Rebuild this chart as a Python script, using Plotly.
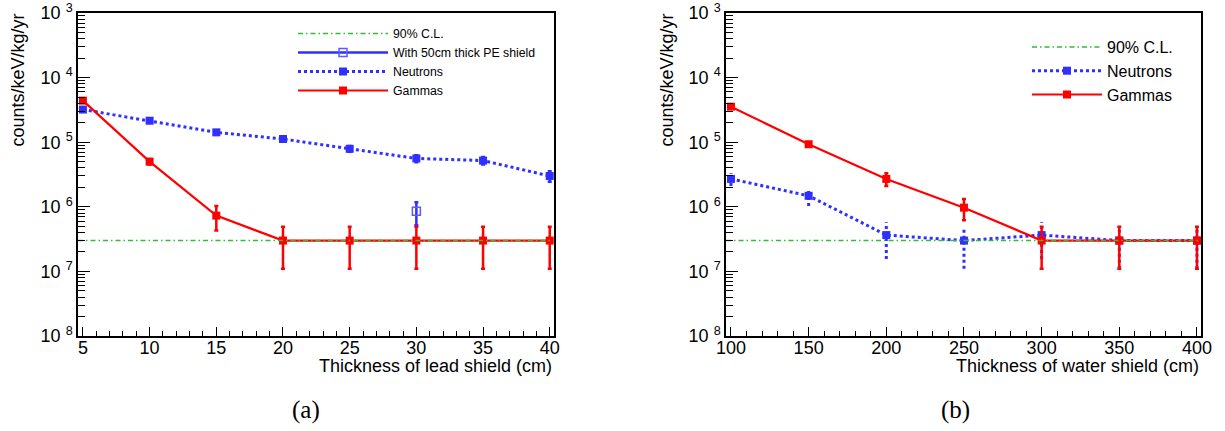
import plotly.graph_objects as go

# ---------------- data ----------------
lead_thickness = [5, 10, 15, 20, 25, 30, 35, 40]
lead_gammas = [4.4e-5, 5.0e-6, 7.3e-7, 3e-7, 3e-7, 3e-7, 3e-7, 3e-7]
lead_gammas_err = [2e-6, 5e-7, 3e-7, 1.9e-7, 1.9e-7, 1.9e-7, 1.9e-7, 1.9e-7]
lead_neutrons = [3.2e-5, 2.15e-5, 1.42e-5, 1.12e-5, 7.9e-6, 5.6e-6, 5.2e-6, 3.0e-6]
lead_neutrons_err = [1.5e-6, 1.2e-6, 1.0e-6, 8e-7, 8e-7, 7e-7, 7e-7, 5.5e-7]
pe_thickness = [30]
pe_neutrons = [8.5e-7]
pe_neutrons_err = [3.3e-7]

water_thickness = [100, 150, 200, 250, 300, 350, 400]
water_gammas = [3.55e-5, 9.3e-6, 2.7e-6, 9.7e-7, 3e-7, 3e-7, 3e-7]
water_gammas_err = [2e-6, 6e-7, 6e-7, 3.5e-7, 1.9e-7, 1.9e-7, 1.9e-7]
water_neutrons = [2.7e-6, 1.48e-6, 3.65e-7, 3e-7, 3.65e-7, 3e-7, 3e-7]
water_neutrons_err = [6e-7, 4.5e-7, 2.1e-7, 1.9e-7, 2.1e-7, 1.9e-7, 1.9e-7]

cl_value = 3e-7

y_exponents = [3, 4, 5, 6, 7, 8]
y_tick_text = ["10 <sup>%d</sup>" % e for e in y_exponents]

lead_range = [4.63, 40.32]
water_range = [96.8, 402.6]

# ---------------- style ----------------
W, H = 1225, 431
FONT = "Liberation Sans, Arial, sans-serif"
RED = "#ff0000"
BLUE = "#2f2fff"
PEBLUE = "#5a5aff"
GREEN = "#2fbf2f"
CL_DASH = "5px,3px,1.5px,3px"

fig = go.Figure()


def err_segments(xs, ys, es):
    sx, sy = [], []
    for x, y, e in zip(xs, ys, es):
        sx += [x, x, None]
        sy += [y - e, y + e, None]
    return sx, sy


# ----- left panel -----
fig.add_trace(go.Scatter(
    x=lead_thickness, y=lead_neutrons, mode="lines+markers", name="Neutrons",
    line=dict(color=BLUE, width=3, dash="dot"),
    marker=dict(symbol="square", size=8, color=BLUE),
    error_y=dict(type="data", array=lead_neutrons_err, color=BLUE, thickness=2.5, width=2),
    xaxis="x", yaxis="y", legend="legend", legendrank=3))
fig.add_trace(go.Scatter(
    x=pe_thickness, y=pe_neutrons, mode="lines+markers", name="With 50cm thick PE shield",
    line=dict(color=BLUE, width=2.5),
    marker=dict(symbol="square-open", size=8, color=PEBLUE, line=dict(width=1.5)),
    error_y=dict(type="data", array=pe_neutrons_err, color=BLUE, thickness=2.5, width=2),
    xaxis="x", yaxis="y", legend="legend", legendrank=2))
fig.add_trace(go.Scatter(
    x=lead_thickness, y=lead_gammas, mode="lines+markers", name="Gammas",
    line=dict(color=RED, width=2.2),
    marker=dict(symbol="square", size=8, color=RED),
    error_y=dict(type="data", array=lead_gammas_err, color=RED, thickness=2.5, width=2),
    xaxis="x", yaxis="y", legend="legend", legendrank=4))
fig.add_trace(go.Scatter(
    x=lead_range, y=[cl_value, cl_value], mode="lines", name="90% C.L.",
    line=dict(color=GREEN, width=1.5, dash=CL_DASH),
    xaxis="x", yaxis="y", legend="legend", legendrank=1))

# ----- right panel -----
ex, ey = err_segments(water_thickness, water_neutrons, water_neutrons_err)
fig.add_trace(go.Scatter(
    x=ex, y=ey, mode="lines", line=dict(color=BLUE, width=3, dash="dot"),
    showlegend=False, hoverinfo="skip", xaxis="x2", yaxis="y2"))
fig.add_trace(go.Scatter(
    x=water_thickness, y=water_neutrons, mode="lines+markers", name="Neutrons",
    line=dict(color=BLUE, width=3, dash="dot"),
    marker=dict(symbol="square", size=8, color=BLUE),
    xaxis="x2", yaxis="y2", legend="legend2", legendrank=2))
fig.add_trace(go.Scatter(
    x=water_thickness, y=water_gammas, mode="lines+markers", name="Gammas",
    line=dict(color=RED, width=2.2),
    marker=dict(symbol="square", size=8, color=RED),
    error_y=dict(type="data", array=water_gammas_err, color=RED, thickness=2.5, width=2),
    xaxis="x2", yaxis="y2", legend="legend2", legendrank=3))
fig.add_trace(go.Scatter(
    x=water_range, y=[cl_value, cl_value], mode="lines", name="90% C.L.",
    line=dict(color=GREEN, width=1.5, dash=CL_DASH),
    xaxis="x2", yaxis="y2", legend="legend2", legendrank=1))

# ---------------- axes ----------------
minor_y = []
for e in range(-8, -3):
    for k in range(2, 10):
        minor_y.append(k * 10.0 ** e)

ydom = [95 / H, 418 / H]


def xaxis_common(dom, rng, dtick, mdtick):
    return dict(domain=dom, range=rng, showgrid=False, zeroline=False, automargin=False,
                showline=True, linecolor="black", linewidth=1.5, mirror=True,
                ticks="inside", ticklen=9, tickwidth=1, tickcolor="black",
                tick0=0, dtick=dtick, ticklabelstandoff=-5,
                minor=dict(ticks="inside", ticklen=5, dtick=mdtick, tickcolor="black", showgrid=False),
                tickfont=dict(family=FONT, size=18, color="black"))


def yaxis_common(anchor):
    return dict(domain=ydom, type="log", range=[-8, -3], anchor=anchor, automargin=False,
                showgrid=False, zeroline=False, showline=True, linecolor="black",
                linewidth=1.5, mirror=True, ticks="inside", ticklen=12,
                tickwidth=1, tickcolor="black", tickmode="array",
                tickvals=[10.0 ** (-e) for e in y_exponents], ticktext=y_tick_text,
                minor=dict(ticks="inside", ticklen=7, tickmode="array",
                           tickvals=minor_y, tickcolor="black", showgrid=False),
                tickfont=dict(family=FONT, size=18, color="black"))


fig.update_layout(
    width=W, height=H, margin=dict(l=0, r=0, t=0, b=0, autoexpand=False),
    paper_bgcolor="white", plot_bgcolor="white",
    font=dict(family=FONT, color="black"),
    xaxis=dict(anchor="y", **xaxis_common([78 / W, 554 / W], lead_range, 5, 1)),
    yaxis=yaxis_common("x"),
    xaxis2=dict(anchor="y2", **xaxis_common([726 / W, 1201 / W], water_range, 50, 10)),
    yaxis2=yaxis_common("x2"),
    legend=dict(x=293 / W, y=1 - 19 / H, xanchor="left", yanchor="top",
                font=dict(family=FONT, size=12.3), bgcolor="rgba(0,0,0,0)",
                itemwidth=90, traceorder="normal"),
    legend2=dict(x=1027 / W, y=1 - 30 / H, xanchor="left", yanchor="top",
                 font=dict(family=FONT, size=16), bgcolor="rgba(0,0,0,0)",
                 itemwidth=70, traceorder="normal"),
    showlegend=True,
)

ann = []
ann.append(dict(text="Thickness of lead shield (cm)", xref="x domain", yref="paper",
                x=1, y=1 - 366 / H, xanchor="right", yanchor="middle", showarrow=False,
                font=dict(family=FONT, size=18)))
ann.append(dict(text="Thickness of water shield (cm)", xref="x2 domain", yref="paper",
                x=1, y=1 - 366 / H, xanchor="right", yanchor="middle", showarrow=False,
                font=dict(family=FONT, size=18)))
ann.append(dict(text="counts/keV/kg/yr", xref="paper", yref="paper",
                x=18 / W, y=1 - 12 / H, xanchor="center", yanchor="top", textangle=-90,
                showarrow=False, font=dict(family=FONT, size=18)))
ann.append(dict(text="counts/keV/kg/yr", xref="paper", yref="paper",
                x=667 / W, y=1 - 12 / H, xanchor="center", yanchor="top", textangle=-90,
                showarrow=False, font=dict(family=FONT, size=18)))
ann.append(dict(text="(a)", xref="paper", yref="paper", x=306 / W, y=1 - 410 / H,
                xanchor="center", yanchor="middle", showarrow=False,
                font=dict(family="Liberation Serif, serif", size=25)))
ann.append(dict(text="(b)", xref="paper", yref="paper", x=955 / W, y=1 - 410 / H,
                xanchor="center", yanchor="middle", showarrow=False,
                font=dict(family="Liberation Serif, serif", size=25)))
fig.update_layout(annotations=ann)

fig.write_html("out.html", config={"displayModeBar": False},
               post_script="document.body.style.margin='0px';document.body.style.overflow='hidden';")
